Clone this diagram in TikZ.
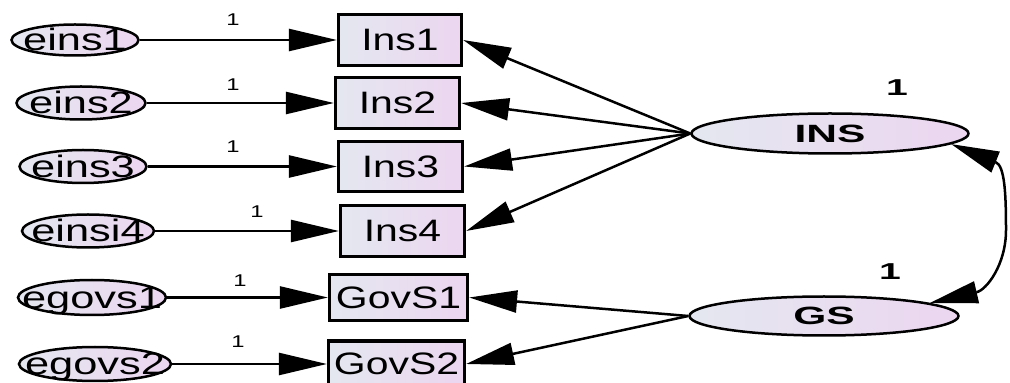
\documentclass[tikz,border=0pt]{standalone}
\usepackage{fontspec}
\setmainfont{Liberation Sans}
\newfontfamily\boxfont[FakeStretch=1.32]{Liberation Sans}
\newfontfamily\errfont[FakeStretch=1.4]{Liberation Sans}
\newfontfamily\latfont[FakeStretch=1.7]{Liberation Sans}
\usetikzlibrary{shapes.geometric,arrows.meta,calc}
\definecolor{shadeL}{RGB}{228,231,240}
\definecolor{shadeR}{RGB}{236,214,240}
\begin{document}
\begin{tikzpicture}[x=1pt,y=1pt,
  obsbox/.style={draw=black, line width=3.2pt, rectangle, inner sep=0pt,
    left color=shadeL, right color=shadeR,
    label={[boxtext]center:#1}},
  boxtext/.style={font=\boxfont\fontsize{31}{31}\selectfont, inner sep=0pt,
    text height=22pt, text depth=0pt},
  errell/.style={draw=black, line width=2.5pt, ellipse, inner sep=0pt,
    left color=shadeL, right color=shadeR,
    label={[errtext]center:#1}},
  errtext/.style={font=\errfont\fontsize{31}{31}\selectfont, inner sep=0pt,
    text height=22pt, text depth=0pt},
  latell/.style={draw=black, line width=2.5pt, ellipse, inner sep=0pt,
    left color=shadeL, right color=shadeR,
    label={[lattext]center:#1}},
  lattext/.style={font=\latfont\bfseries\fontsize{25}{25}\selectfont, inner sep=0pt,
    text height=18pt, text depth=0pt},
  wt/.style={font=\errfont\fontsize{17}{17}\selectfont, inner sep=0pt},
  var/.style={font=\latfont\bfseries\fontsize{23}{23}\selectfont, inner sep=0pt},
  conn/.style={draw=black, line width=2.5pt},
  path/.style={conn, -{Triangle[length=48pt,width=22pt]}}
]
\useasboundingbox (0,0) rectangle (1010,383);

% observed indicators
\node[obsbox=Ins1, minimum width=123pt, minimum height=51pt] (Ins1) at (400,343) {};
\node[obsbox=Ins2, minimum width=124pt, minimum height=51pt] (Ins2) at (397.5,280) {};
\node[obsbox=Ins3, minimum width=124pt, minimum height=50pt] (Ins3) at (400.5,216.5) {};
\node[obsbox=Ins4, minimum width=124pt, minimum height=51pt] (Ins4) at (402.5,152) {};
\node[obsbox=GovS1, minimum width=138pt, minimum height=46pt] (GovS1) at (398.5,85.5) {};
\node[obsbox=GovS2, minimum width=136pt, minimum height=46pt] (GovS2) at (396.5,19) {};

% error terms
\node[errell=eins1, minimum width=127pt, minimum height=31pt] (eins1) at (75,343) {};
\node[errell=eins2, minimum width=129pt, minimum height=33pt] (eins2) at (81,280) {};
\node[errell=eins3, minimum width=127pt, minimum height=33pt] (eins3) at (83,216.5) {};
\node[errell=einsi4, minimum width=132pt, minimum height=33pt] (einsi4) at (88,152) {};
\node[errell=egovs1, minimum width=148pt, minimum height=35pt] (egovs1) at (92,85.5) {};
\node[errell=egovs2, minimum width=152pt, minimum height=34pt] (egovs2) at (95,19) {};

% latent factors
\node[latell=INS, minimum width=277pt, minimum height=40pt] (INS) at (830,249.5) {};
\node[latell=GS, minimum width=269pt, minimum height=39pt] (GS) at (824,67) {};

% fixed error weights
\node[wt] (w1) at (233,363) {1};
\node[wt] (w2) at (233,298) {1};
\node[wt] (w3) at (233,236) {1};
\node[wt] (w4) at (257,171) {1};
\node[wt] (w5) at (240,102) {1};
\node[wt] (w6) at (238,41) {1};

% factor variances
\node[var] (vINS) at (897,295) {1};
\node[var] (vGS) at (890,111) {1};

% error paths
\draw[path] (eins1) -- (Ins1);
\draw[path] (eins2) -- (Ins2);
\draw[path] (eins3) -- (Ins3);
\draw[path] (einsi4) -- (Ins4);
\draw[path] (egovs1) -- (GovS1);
\draw[path] (egovs2) -- (GovS2);

% loadings
\draw[path] (INS.west) -- (Ins1.east);
\draw[path] (INS.west) -- (Ins2.east);
\draw[path] (INS.west) -- (Ins3.east);
\draw[path] (INS.west) -- (Ins4.east);
\draw[path] (GS.west) -- (GovS1.east);
\draw[path] (GS.west) -- (GovS2.east);

% factor covariance: an arc bulging to the right, with a head at each end
\coordinate (insbase) at ($(INS.-5)+(-22:48)$);
\coordinate (gsbase) at ($(GS.7)+(13:48)$);
\coordinate (covmid) at (1006,153);
\draw[conn] (insbase) .. controls +(-22:10) and +(0,35) .. (covmid)
                      .. controls +(0,-35) and +(13:10) .. (gsbase);
\draw[path] (insbase) -- (INS.-5);
\draw[path] (gsbase) -- (GS.7);
\end{tikzpicture}
\end{document}
